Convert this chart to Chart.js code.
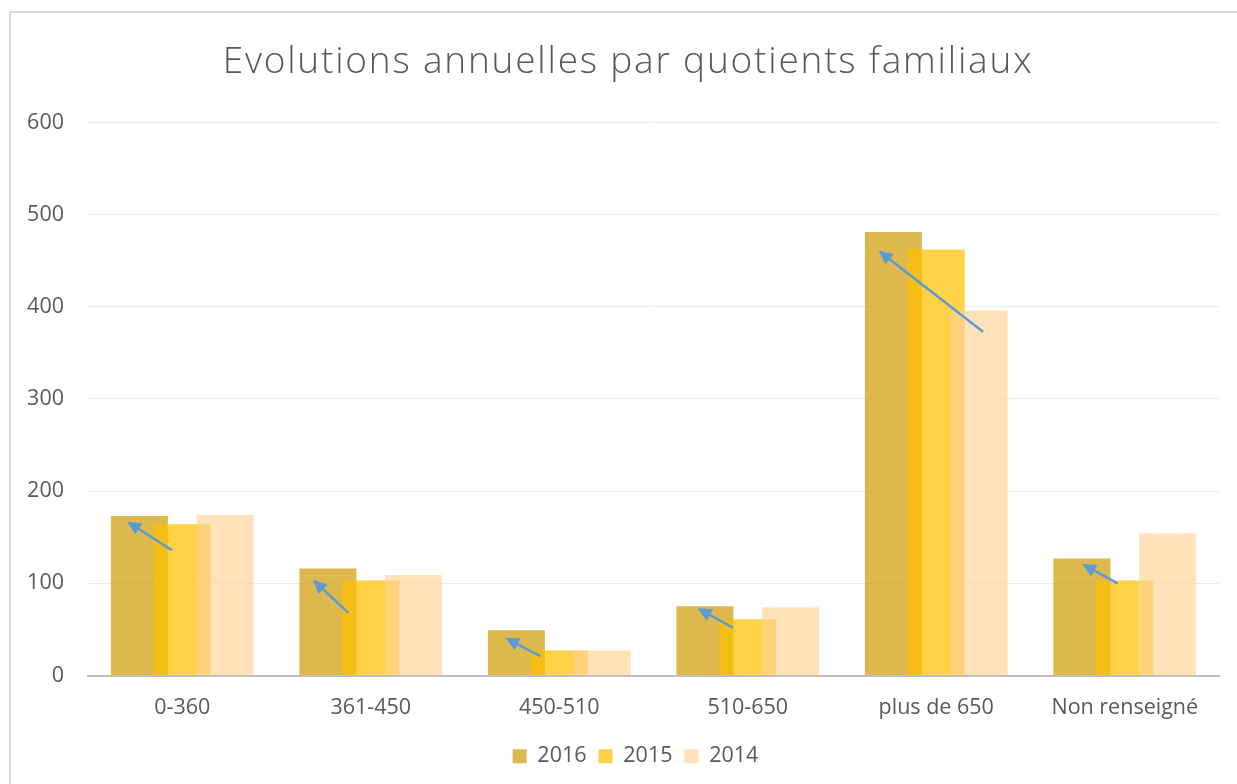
<!DOCTYPE html>
<html>
<head>
<meta charset="utf-8">
<script src="https://cdn.jsdelivr.net/npm/chart.js@4/dist/chart.umd.min.js"></script>
<style>
  html, body { margin: 0; padding: 0; background: #ffffff; }
  #wrap { position: relative; width: 1237px; height: 784px; }
</style>
</head>
<body>
<div id="wrap"><canvas id="c" width="1237" height="784"></canvas></div>
<script>
// ---- data ----
const categories = ['0-360', '361-450', '450-510', '510-650', 'plus de 650', 'Non renseigné'];
const seriesNames = ['2016', '2015', '2014'];
const values2016 = [173, 116, 49, 75, 481, 127];
const values2015 = [164, 103, 27, 61, 462, 103];
const values2014 = [174, 109, 27, 74, 396, 154];
const yTicks = [0, 100, 200, 300, 400, 500, 600];
// annotation arrows (in axis units: category index offset, value)
const arrowFromOffset = [-0.055, -0.119, -0.101, -0.079, 0.248, -0.038];
const arrowFromValue  = [136, 68, 21, 52, 373, 100];
const arrowToOffset   = [-0.293, -0.307, -0.286, -0.266, -0.306, -0.227];
const arrowToValue    = [167, 104, 41, 73, 461, 121];

const FONT = "'Open Sans', 'DejaVu Sans', sans-serif";
const TEXT = '#595959';

const framePlugin = {
  id: 'frame',
  afterLayout(chart) {
    // the original chart frame extends past the right edge: re-centre title and legend on it
    const t = chart.titleBlock;
    if (t) { t.left += 13.5; t.right += 13.5; }
    const l = chart.legend;
    if (l) { l.left += 21; l.right += 21; }
    if (t && !t._spaced) {
      const orig = t.draw;
      t.draw = function () {
        const ctx = this.ctx;
        ctx.save();
        ctx.letterSpacing = '1.8px';
        orig.apply(this, arguments);
        ctx.restore();
      };
      t._spaced = true;
    }
  },
  beforeDraw(chart) {
    const ctx = chart.ctx;
    ctx.save();
    ctx.strokeStyle = '#D9D9D9';
    ctx.lineWidth = 2;
    ctx.beginPath();
    ctx.moveTo(10, chart.height);
    ctx.lineTo(10, 12);
    ctx.lineTo(chart.width, 12);
    ctx.stroke();
    ctx.restore();
  }
};

const drawOrderPlugin = {
  id: 'drawOrder',
  beforeDatasetsDraw(chart) {
    for (let i = 0; i < chart.data.datasets.length; i++) {
      const meta = chart.getDatasetMeta(i);
      if (!meta.hidden) meta.controller.draw();
    }
    return false;
  }
};

const arrowPlugin = {
  id: 'arrows',
  afterDraw(chart) {
    const x = chart.scales.x, y = chart.scales.y, ctx = chart.ctx;
    ctx.save();
    ctx.strokeStyle = '#5B9BD5';
    ctx.fillStyle = '#5B9BD5';
    ctx.lineWidth = 2.5;
    for (let i = 0; i < categories.length; i++) {
      const x1 = x.getPixelForValue(i + arrowFromOffset[i]);
      const y1 = y.getPixelForValue(arrowFromValue[i]);
      const x2 = x.getPixelForValue(i + arrowToOffset[i]);
      const y2 = y.getPixelForValue(arrowToValue[i]);
      const ang = Math.atan2(y2 - y1, x2 - x1);
      const hl = 14, hw = 6.5;
      const bx = x2 - hl * Math.cos(ang), by = y2 - hl * Math.sin(ang);
      ctx.beginPath();
      ctx.moveTo(x1, y1);
      ctx.lineTo(bx + 2 * Math.cos(ang), by + 2 * Math.sin(ang));
      ctx.stroke();
      ctx.beginPath();
      ctx.moveTo(x2, y2);
      ctx.lineTo(bx + hw * Math.sin(ang), by - hw * Math.cos(ang));
      ctx.lineTo(bx - hw * Math.sin(ang), by + hw * Math.cos(ang));
      ctx.closePath();
      ctx.fill();
    }
    ctx.restore();
  }
};

new Chart(document.getElementById('c'), {
  type: 'bar',
  data: {
    labels: categories,
    datasets: [
      { label: seriesNames[0], data: values2016, backgroundColor: 'rgba(206,155,2,0.70)' },
      { label: seriesNames[1], data: values2015, backgroundColor: 'rgba(255,192,0,0.72)' },
      { label: seriesNames[2], data: values2014, backgroundColor: 'rgba(255,212,150,0.67)' }
    ]
  },
  options: {
    responsive: false,
    animation: false,
    events: [],
    categoryPercentage: 0.682,
    barPercentage: 1.33,
    layout: { padding: { left: 10, right: 18, top: 12, bottom: 7 } },
    plugins: {
      tooltip: { enabled: false },
      title: {
        display: true,
        text: 'Evolutions annuelles par quotients familiaux',
        color: TEXT,
        font: { family: FONT, size: 37, weight: '300' },
        padding: { top: 28, bottom: 38 }
      },
      legend: {
        position: 'bottom',
        labels: {
          color: TEXT,
          font: { family: FONT, size: 21.5 },
          boxWidth: 14,
          boxHeight: 14,
          padding: 12
        }
      }
    },
    scales: {
      x: {
        afterFit(scale) { scale.height = 58; },
        grid: { display: false, drawTicks: false },
        border: { display: true, color: '#BFBFBF', width: 2 },
        ticks: { color: TEXT, font: { family: FONT, size: 21.5, lineHeight: 0.8 }, padding: 24 }
      },
      y: {
        min: 0, max: 600,
        afterBuildTicks(scale) { scale.ticks = yTicks.map(v => ({ value: v })); },
        afterFit(scale) { scale.width = 78; },
        grid: { color: '#EBEBEB', lineWidth: 1, drawTicks: false },
        border: { display: false },
        ticks: { color: TEXT, font: { family: FONT, size: 21.5 }, padding: 24 }
      }
    }
  },
  plugins: [framePlugin, drawOrderPlugin, arrowPlugin]
});
</script>
</body>
</html>
